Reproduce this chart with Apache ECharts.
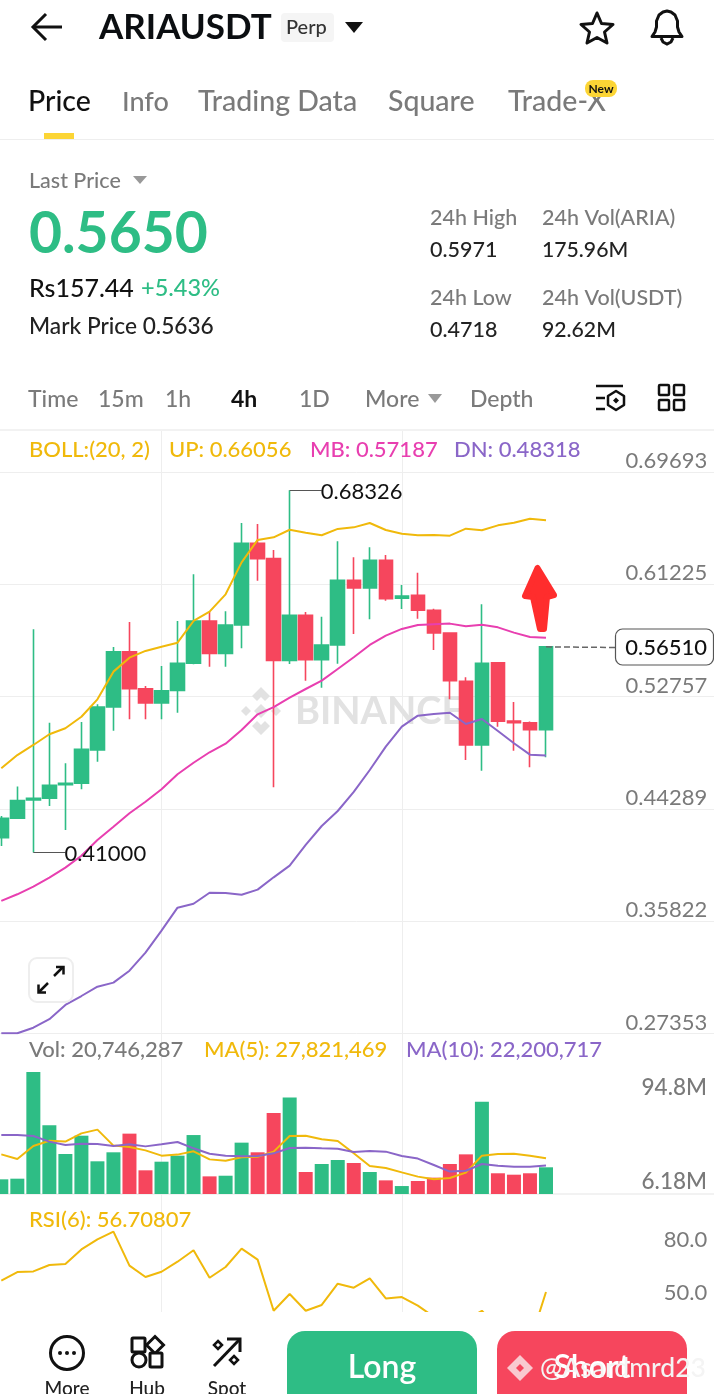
<!DOCTYPE html>
<html><head><meta charset="utf-8">
<style>html,body{margin:0;padding:0;background:#fff}#c{width:714px;height:1394px}</style>
<script src="https://cdn.jsdelivr.net/npm/echarts@6/dist/echarts.min.js"></script>
</head><body><div id="c"></div>
<script>
const opens =[.4212,.4358,.4496,.4509,.4612,.4622,.4873,.5197,.5614,.5335,.5228,.5323,.5527,.5846,.5602,.5816,.6432,.6316,.5549,.5889,.5554,.5665,.6153,.6095,.6304,.6017,.6040,.5927,.5755,.5391,.4911,.5531,.5091,.5079,.5026];
const closes=[.4358,.4491,.4509,.4607,.4622,.4879,.5197,.5614,.5335,.5228,.5320,.5527,.5846,.5602,.5816,.6432,.6316,.5549,.5889,.5554,.5665,.6153,.6095,.6304,.6014,.6034,.5927,.5755,.5396,.4911,.5527,.5090,.5079,.5026,.5651];
const lows  =[.4149,.4358,.41000,.4451,.4270,.4577,.4785,.5019,.5105,.5105,.5105,.5154,.5519,.5501,.5501,.5640,.6150,.4592,.5522,.5396,.5343,.5524,.5748,.5859,.5999,.5936,.5863,.5627,.5255,.4798,.4717,.5049,.4868,.4743,.4818];
const highs =[.4375,.4597,.5783,.5079,.4773,.5084,.5218,.5650,.5838,.5356,.5507,.5846,.6198,.5916,.5919,.6585,.6577,.6381,.68326,.5914,.5878,.6447,.6326,.6402,.6344,.6117,.6210,.5939,.5760,.5421,.5972,.5535,.5235,.5087,.5655];
const bollUp=[.4735,.4835,.4911,.4992,.5037,.5124,.5255,.5464,.5569,.5620,.5652,.5682,.5846,.5916,.6047,.6288,.6457,.6477,.6534,.6512,.6492,.6540,.6552,.6585,.6532,.6504,.6492,.6494,.6489,.6542,.6530,.6567,.6587,.6617,.66056];
const bollMb=[.3735,.3785,.3843,.3910,.3986,.4076,.4195,.4295,.4396,.4483,.4577,.4690,.4777,.4856,.4921,.5024,.5142,.5197,.5268,.5333,.5396,.5484,.5572,.5665,.5735,.5786,.5816,.5821,.5826,.5806,.5818,.5798,.5758,.5725,.57187];
const bollDn=[.2737,.2737,.2779,.2843,.2951,.3018,.3088,.3119,.3209,.3345,.3511,.3684,.3714,.3797,.3795,.3782,.3820,.3913,.4001,.4157,.4300,.4413,.4557,.4722,.4898,.5049,.5132,.5145,.5154,.5069,.5107,.5016,.4924,.4838,.48318];
const volumes=[11.4,11.9,94.8,53.4,31.1,45.3,25.4,32.4,46.9,18.4,25.1,29.8,45.8,13.7,14.2,39.9,32.4,62.9,74.9,17.1,23.3,26.4,24.1,17.1,10.6,6.18,10.1,12.7,23.3,30.8,71.7,16.1,15.0,16.1,20.75];
const volMa5=[30.8,27.2,37.3,41.4,40.7,47.1,50,37.6,36.5,33.9,29.8,30.6,33.2,26.9,25.9,28.5,29,32.9,45.1,45.3,42.5,41.2,31.6,21.8,20.2,16.8,13.5,11.4,12.4,16.6,29.8,31.1,31.3,29.8,27.82];
const volMa10=[45.8,45.8,45.1,40.7,38.1,39.1,38.9,37.3,38.6,37,38.6,40.4,35.5,31.3,29.8,29.3,29.5,31.6,35.7,36,35.5,35.2,32.6,33.4,32.9,29.5,27.5,22.5,17.4,18.1,23.3,22,21.2,21.2,22.2];
const rsi6=[63.1,68.0,68.4,72.0,72.6,80.9,86.6,91,71.7,65.2,68.2,73.9,80.4,64.8,70.9,81.3,75.1,46.0,55.5,46,49.3,61.4,59.1,64.4,53,53.8,48.9,42.6,33,40.7,46,36,30,28,56.71];
const priceTicks=[.27353,.35822,.44289,.52757,.61225,.69693];
const rsiTicks=[50,80];
const categories=Array.from({length:45},(_,i)=>String(i));
const GREEN='#2ebd85',RED='#f6465d',YEL='#f0b90b',PINK='#e83fb0',PUR='#8a66c8',GRAY='#7a7a7a',GRID='#eeeeee';
const FONT='Lato';

function T(x,y,text,size,fill,o){o=o||{};return {type:'text',z:o.z||50,style:{x,y:y+0.8,text,fill,font:(o.w||500)+' '+size+'px '+FONT,textAlign:o.a||'left',textVerticalAlign:'middle'}};}
function P(points,stroke,w,o){o=o||{};return {type:o.fill?'polygon':'polyline',z:o.z||50,shape:{points},style:o.fill?{fill:o.fill,stroke:stroke||o.fill,lineWidth:w||0,lineJoin:'round'}:{fill:'none',stroke,lineWidth:w,lineJoin:o.j||'miter',lineCap:o.c||'butt'}};}
function R(x,y,w,h,r,fill,stroke,lw,z){return {type:'rect',z:z||50,shape:{x,y,width:w,height:h,r},style:{fill,stroke:stroke||'none',lineWidth:lw||0}};}
function C(cx,cy,r,fill,stroke,lw,z){return {type:'circle',z:z||50,shape:{cx,cy,r},style:{fill,stroke:stroke||'none',lineWidth:lw||0}};}
function D(cx,cy,r,fill,stroke,lw,z){return {type:'polygon',z:z||50,shape:{points:[[cx,cy-r],[cx+r,cy],[cx,cy+r],[cx-r,cy]]},style:{fill,stroke:stroke||'none',lineWidth:lw||0}};}

const gfx=[
 // header
 P([[46,14],[33,27],[46,40]],'#111',3),P([[33,27],[62,27]],'#111',3),
 T(99,27,'ARIAUSDT',35,'#0b0e11',{w:700}),
 R(281,13,53,29,4,'#f5f5f5'),T(286,27,'Perp',20,'#333'),
 P([[345,22],[363,22],[354,33]],null,0,{fill:'#111'}),
 P([[597,13],[601.5,23.5],[613,24.5],[604.5,32],[607,43],[597,37.5],[587,43],[589.5,32],[581,24.5],[592.5,23.5]],'#111',3,{fill:'#fff'}),
 P([[652,36.5],[655,32],[656.5,27],[656.5,21],[659,15],[663,12],[667,11],[671,12],[675,15],[677.5,21],[677.5,27],[679,32],[682,36.5]],'#111',3,{fill:'#fff'}),
 P([[661,38],[663,42],[667,44],[671,42],[673,38]],'#111',3),
 // tabs
 T(28,101.5,'Price',28.5,'#111'),T(122,101.5,'Info',27,GRAY),T(198,101.5,'Trading Data',28.5,GRAY),T(388,101.5,'Square',28.5,GRAY),T(508,101.5,'Trade-X',28.5,GRAY),
 R(585,80,32,17,8,'#fcd535'),T(601,88,'New',12,'#111',{w:700,a:'center'}),
 R(44,133,30,6,0,'#fcd535'),R(0,139,714,1,0,GRID),
 // price panel
 T(29,180.5,'Last Price',21.5,GRAY),P([[133,176],[147,176],[140,184]],null,0,{fill:'#999'}),
 T(29,233.5,'0.5650',57,GREEN,{w:700}),
 T(29,288,'Rs157.44',25,'#111'),T(141,288,'+5.43%',23.5,GREEN),
 T(29,326,'Mark Price 0.5636',22.7,'#222'),
 T(430,217,'24h High',21.5,GRAY),T(430,249,'0.5971',21.5,'#222'),T(542,217,'24h Vol(ARIA)',21.5,GRAY),T(542,249,'175.96M',21.2,'#222'),
 T(430,297,'24h Low',21.5,GRAY),T(430,329,'0.4718',21.5,'#222'),T(542,297,'24h Vol(USDT)',21.5,GRAY),T(542,329,'92.62M',21.2,'#222'),
 // interval row
 T(28,398.5,'Time',23,GRAY),T(98,398.5,'15m',23,GRAY),T(165,398.5,'1h',23,GRAY),T(231,398.5,'4h',23,'#111',{w:700}),T(299,398.5,'1D',23,GRAY),T(365,398.5,'More',23,GRAY),
 P([[428,394],[442,394],[435,403]],null,0,{fill:'#999'}),T(470,398.5,'Depth',23,GRAY),
 P([[596,386],[623,386]],'#111',2.5),P([[596,398],[605,398]],'#111',2.5),P([[596,409],[605,409]],'#111',2.5),
 P([[616,391],[624,396],[624,405],[616,410],[608,405],[608,396]],'#111',2.5,{fill:'#fff'}),D(616,400.5,3,'#111'),
 R(659,385,10,10,1,'#fff','#111',2.5),R(674,385,10,10,1,'#fff','#111',2.5),R(659,400,10,10,1,'#fff','#111',2.5),R(674,400,10,10,1,'#fff','#111',2.5),
 R(0,429,714,2,0,'#f2f2f2'),
 // legends
 T(29,449,'BOLL:(20, 2)',22,YEL),T(169,449,'UP: 0.66056',22,YEL),T(310,449,'MB: 0.57187',22,PINK),T(454,449,'DN: 0.48318',22,PUR),
 T(29,1049,'Vol: 20,746,287',22,GRAY),T(204,1049,'MA(5): 27,821,469',22,YEL),T(406,1049,'MA(10): 22,200,717',22,PUR),
 T(29,1219,'RSI(6): 56.70807',22,YEL),
 T(707,1087,'94.8M',22.5,GRAY,{a:'right'}),T(707,1181,'6.18M',22.5,GRAY,{a:'right'}),
 // watermark
 P([[261,687],[270,696],[265,701],[261,697],[257,701],[252,696]],null,0,{fill:'#e2e2e2',z:1}),
 P([[261,735],[270,726],[265,721],[261,725],[257,721],[252,726]],null,0,{fill:'#e2e2e2',z:1}),
 D(246,711,5,'#e2e2e2',null,0,1),D(276,711,5,'#e2e2e2',null,0,1),D(261,711,7,'#e2e2e2',null,0,1),
 T(295,711,'BINANCE',38,'#e2e2e2',{w:700,z:1}),
 // last price tag and annotation arrow
 R(615.5,629,98,36,7,'#fff','#555',1.2,40),T(707,647.5,'0.56510',22,'#111',{a:'right'}),
 P([[537.5,568],[525,596],[533,597],[540,629],[544,629],[547,597],[554,595]],'#ff2d2d',6,{fill:'#ff2d2d',z:45}),
 // expand button
 R(29,958,44,44,8,'#fff','#eeeeee',2,40),
 P([[54,976],[63,967]],'#111',2.5),P([[56,967],[63.5,967],[63.5,974.5]],'#111',2.5),
 P([[39,992],[48,983]],'#111',2.5),P([[38.5,984.5],[38.5,992.5],[46,992.5]],'#111',2.5),
 // bottom bar
 R(0,1312,714,82,0,'#fff',null,0,60),
 C(67,1353,16.5,'#fff','#111',3,61),C(60,1353,2,'#111',null,0,61),C(67,1353,2,'#111',null,0,61),C(74,1353,2,'#111',null,0,61),
 T(67,1388,'More',19,'#222',{a:'center',z:61}),
 R(132,1338,13,14,1,'#fff','#111',3,61),D(155,1345,8.5,'#fff','#111',3,61),C(139,1360,7,'#fff','#111',3,61),R(150,1353,12,14,1,'#fff','#111',3,61),
 T(147,1388,'Hub',19,'#222',{a:'center',z:61}),
 P([[214,1366],[240,1339]],'#111',3,{z:61}),P([[227,1339],[240,1339],[240,1352]],'#111',3,{z:61}),D(218,1345,4,'#fff','#111',2.5,61),D(234,1360,4,'#fff','#111',2.5,61),
 T(227,1388,'Spot',19,'#222',{a:'center',z:61}),
 R(287,1331,190,80,18,GREEN,null,0,61),T(382,1367,'Long',32,'#fff',{a:'center',w:600,z:62}),
 R(497,1331,190,80,18,RED,null,0,61),T(592,1367,'Short',32,'#fff',{a:'center',w:600,z:62}),
 D(520,1368,13,'#f9c9cf',null,0,62),D(520,1368,4,RED,null,0,63),
 {type:'text',z:63,style:{x:540,y:1368,text:'@Asardmrd23',fill:'#f4f4f4',font:'500 26.5px '+FONT,textVerticalAlign:'middle',shadowColor:'#555',shadowBlur:2,shadowOffsetX:1,shadowOffsetY:1}}
];

const gridLeft=-6.7,gridW=720.9;
const vGrid={show:true,interval:(i)=>i===10||i===25,alignWithLabel:true,lineStyle:{color:GRID,width:1}};
function xa(gi,line){return {type:'category',gridIndex:gi,data:categories,boundaryGap:true,axisLabel:{show:false},axisTick:{show:false,alignWithLabel:true},axisLine:{show:!!line,lineStyle:{color:GRID,width:1.5}},splitLine:vGrid};}
function line(name,data,color,xi,yi){return {name,type:'line',xAxisIndex:xi,yAxisIndex:yi,data,symbol:'none',lineStyle:{color,width:2},itemStyle:{color},z:3,silent:true,animation:false};}
const labelCommon={inside:true,margin:7,color:GRAY,fontFamily:FONT,fontSize:22,verticalAlign:'bottom',lineHeight:22};

const option={
 animation:false,
 grid:[
  {left:gridLeft,width:gridW,top:430,height:603.5,outerBoundsMode:'none'},
  {left:gridLeft,width:gridW,top:1033.5,height:160.5,outerBoundsMode:'none'},
  {left:gridLeft,width:gridW,top:1194,height:118,outerBoundsMode:'none'}],
 xAxis:[xa(0),xa(1,true),xa(2)],
 yAxis:[
  {type:'value',gridIndex:0,position:'right',min:.27353,max:.7286,axisLine:{show:false},axisTick:{show:false,customValues:priceTicks},axisLabel:Object.assign({customValues:priceTicks,formatter:v=>v.toFixed(5)},labelCommon),splitLine:{show:true,lineStyle:{color:GRID,width:1}}},
  {type:'value',gridIndex:1,position:'right',min:0,max:124.7,axisLine:{show:false},axisTick:{show:false},axisLabel:{show:false},splitLine:{show:false}},
  {type:'value',gridIndex:2,position:'right',min:45.3,max:112.4,axisLine:{show:false},axisTick:{show:false,customValues:rsiTicks},axisLabel:Object.assign({customValues:rsiTicks,formatter:v=>v.toFixed(1)},labelCommon),splitLine:{show:false}}
 ],
 series:[
  {name:'Kline',type:'candlestick',xAxisIndex:0,yAxisIndex:0,barWidth:14,z:2,silent:true,
   data:opens.map((o,i)=>[o,closes[i],lows[i],highs[i]]),
   itemStyle:{color:GREEN,color0:RED,borderColor:GREEN,borderColor0:RED,borderWidth:1.6},
   markLine:{silent:true,symbol:'none',animation:false,
    data:[
     [{coord:['18',.68326],lineStyle:{color:'#555',width:1,type:'solid'},label:{show:true,position:'end',formatter:'0.68326',color:'#111',fontFamily:FONT,fontSize:22,distance:0,offset:[-1,1.5]}},{coord:['20',.68326]}],
     [{coord:['2',.41],lineStyle:{color:'#555',width:1,type:'solid'},label:{show:true,position:'end',formatter:'0.41000',color:'#111',fontFamily:FONT,fontSize:22,distance:0,offset:[-1,1.5]}},{coord:['4',.41]}],
     [{coord:['34',.5651],lineStyle:{color:'#666',width:1.5,type:'dashed'},label:{show:false}},{x:615,y:647.5}]
    ]}
  },
  line('UP',bollUp,YEL,0,0),line('MB',bollMb,PINK,0,0),line('DN',bollDn,PUR,0,0),
  {name:'Vol',type:'bar',xAxisIndex:1,yAxisIndex:1,barWidth:14,silent:true,z:2,data:volumes,itemStyle:{color:p=>closes[p.dataIndex]>=opens[p.dataIndex]?GREEN:RED}},
  line('MA5',volMa5,YEL,1,1),line('MA10',volMa10,PUR,1,1),
  line('RSI6',rsi6,YEL,2,2)
 ],
 graphic:{elements:gfx}
};
const chart=echarts.init(document.getElementById('c'),null,{renderer:'canvas',width:714,height:1394});
chart.setOption(option);
</script></body></html>
